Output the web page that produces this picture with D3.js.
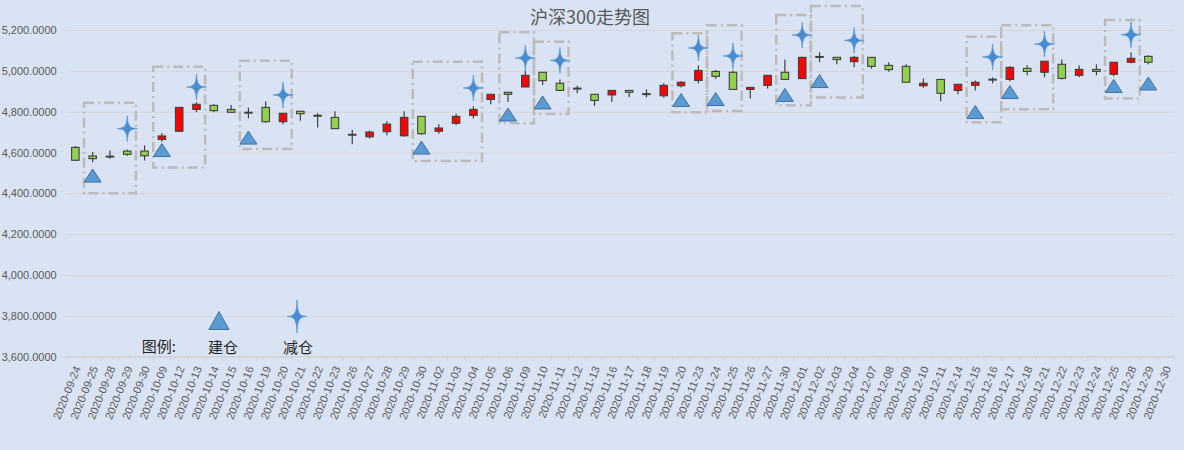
<!DOCTYPE html>
<html>
<head>
<meta charset="utf-8">
<script src="https://cdn.jsdelivr.net/npm/d3@7"></script>
<style>
  html, body { margin: 0; padding: 0; background: #dae3f3; }
  svg { display: block; }
</style>
</head>
<body>
<div id="chart"></div>
<script>
// 沪深300 K线 + 建仓/减仓标记

const DATES = [
  "2020-09-24","2020-09-25","2020-09-28","2020-09-29","2020-09-30","2020-10-09","2020-10-12","2020-10-13",
  "2020-10-14","2020-10-15","2020-10-16","2020-10-19","2020-10-20","2020-10-21","2020-10-22","2020-10-23",
  "2020-10-26","2020-10-27","2020-10-28","2020-10-29","2020-10-30","2020-11-02","2020-11-03","2020-11-04",
  "2020-11-05","2020-11-06","2020-11-09","2020-11-10","2020-11-11","2020-11-12","2020-11-13","2020-11-16",
  "2020-11-17","2020-11-18","2020-11-19","2020-11-20","2020-11-23","2020-11-24","2020-11-25","2020-11-26",
  "2020-11-27","2020-11-30","2020-12-01","2020-12-02","2020-12-03","2020-12-04","2020-12-07","2020-12-08",
  "2020-12-09","2020-12-10","2020-12-11","2020-12-14","2020-12-15","2020-12-16","2020-12-17","2020-12-18",
  "2020-12-21","2020-12-22","2020-12-23","2020-12-24","2020-12-25","2020-12-28","2020-12-29","2020-12-30"
];
const OPEN = [
  4625,4583,4580,4607,4607,4664,4704,4811,4831,4811,4795,4821,4751,4802,4780,4772,
  4687,4677,4702,4682,4777,4704,4743,4782,4860,4895,4921,4993,4939,4913,4885,4882,
  4904,4886,4878,4927,4953,4997,4993,4909,4929,4993,4962,5068,5066,5045,5066,5027,
  5022,4927,4958,4904,4929,4957,4958,5012,4993,5032,4978,5007,4983,5042,5071,null
];
const HIGH = [
  4632,4602,4610,4615,4635,4695,4822,4847,4836,4833,4820,4851,4792,4802,4792,4802,
  4712,4708,4753,4802,4777,4738,4790,4826,4885,4895,4999,4993,4958,4927,4885,4904,
  4904,4909,4939,4950,5027,5004,5002,4919,4978,5056,5069,5091,5066,5073,5066,5042,
  5032,4963,4958,4934,4953,4968,5022,5027,5047,5056,5027,5032,5042,5091,5076,null
];
const LOW = [
  4561,4552,4570,4584,4561,4653,4703,4797,4797,4797,4767,4746,4738,4756,4722,4717,
  4640,4668,4684,4677,4687,4692,4735,4767,4836,4847,4921,4931,4901,4890,4828,4847,
  4872,4870,4868,4919,4939,4960,4909,4865,4914,4958,4962,5042,5032,5017,5011,4996,
  4944,4917,4851,4885,4904,4939,4949,4978,4968,4958,4968,4978,4973,5037,5032,null
];
const CLOSE = [
  4562,4570,4580,4591,4584,4681,4821,4836,4805,4797,4795,4751,4792,4790,4780,4717,
  4687,4700,4739,4772,4692,4720,4777,4811,4885,4885,4978,4952,4904,4913,4855,4904,
  4895,4886,4929,4944,5002,4973,4909,4919,4978,4958,5066,5068,5055,5066,5022,5006,
  4944,4939,4890,4934,4944,4957,5017,4997,5047,4963,5007,4997,5042,5061,5042,null
];

// 建仓 (triangles)
const BUY_DATES  = ["2020-09-25","2020-10-09","2020-10-16","2020-10-30","2020-11-06","2020-11-10","2020-11-20",
                    "2020-11-24","2020-11-30","2020-12-02","2020-12-15","2020-12-17","2020-12-25","2020-12-29"];
const BUY_VALUES = [4487,4612,4673,4624,4786,4845,4857,4862,4882,4950,4798,4896,4926,4938];

// 减仓 (stars)
const SELL_DATES  = ["2020-09-29","2020-10-13","2020-10-20","2020-11-04","2020-11-09","2020-11-11","2020-11-23",
                     "2020-11-25","2020-12-01","2020-12-04","2020-12-16","2020-12-21","2020-12-28"];
const SELL_VALUES = [4717,4921,4882,4916,5063,5051,5112,5073,5175,5149,5068,5131,5177];

// dashed holding boxes
const BOX_START = ["2020-09-25","2020-10-09","2020-10-16","2020-10-30","2020-11-06","2020-11-10","2020-11-20",
                   "2020-11-24","2020-11-30","2020-12-02","2020-12-15","2020-12-17","2020-12-25"];
const BOX_END   = ["2020-09-29","2020-10-13","2020-10-20","2020-11-04","2020-11-09","2020-11-11","2020-11-23",
                   "2020-11-25","2020-12-01","2020-12-04","2020-12-16","2020-12-21","2020-12-28"];
const BOX_LOW   = [4400,4527,4617,4558,4743,4789,4797,4803,4831,4870,4748,4812,4865];
const BOX_HIGH  = [4844,5020,5050,5045,5189,5143,5184,5223,5273,5317,5167,5223,5249];

const Y_TICKS = [3600,3800,4000,4200,4400,4600,4800,5000,5200];

const TITLE = "沪深300走势图";
const LEGEND_LABELS = ["图例:", "建仓", "减仓"];

/* ── Layout ── */
const totalW = 1184, totalH = 450;
const plotL = 66.7, plotR = 1174.3, plotT = 30, plotB = 356.7;
const FONT = "'Liberation Sans', Arial, sans-serif";
const CJK = "'Noto Sans CJK SC', sans-serif";

const svg = d3.select("#chart").append("svg")
  .attr("width", totalW).attr("height", totalH);

svg.append("rect").attr("width", totalW).attr("height", totalH).attr("fill", "#dae3f3");

const defs = svg.append("defs");
defs.append("filter").attr("id", "soft")
  .attr("x", "-30%").attr("y", "-30%").attr("width", "160%").attr("height", "160%")
  .append("feGaussianBlur").attr("stdDeviation", 0.45);

/* ── Scales ── */
const x = d3.scaleBand().domain(DATES).range([plotL, plotR]).padding(0);
const y = d3.scaleLinear().domain([3600, 5200]).range([plotB, plotT]);
const bw = x.bandwidth();

/* ── Grid ── */
svg.append("g").attr("transform", `translate(${plotL},0)`)
  .call(d3.axisLeft(y).tickValues(Y_TICKS).tickSize(-(plotR - plotL)).tickFormat(""))
  .call(ax => { ax.select(".domain").remove(); ax.selectAll("line").attr("stroke", "#d6d5d9").attr("stroke-width", 1); });

/* ── Y axis labels ── */
svg.append("g").attr("transform", `translate(${plotL},0)`)
  .call(d3.axisLeft(y).tickValues(Y_TICKS).tickSize(0).tickPadding(10).tickFormat(d3.format(",.4f")))
  .call(ax => ax.select(".domain").remove())
  .selectAll("text").attr("font-size", 11).attr("font-family", FONT).attr("fill", "#595959");

/* ── X axis ── */
svg.append("line").attr("x1", plotL).attr("x2", plotR).attr("y1", plotB).attr("y2", plotB)
  .attr("stroke", "#cfcfd2");
svg.append("g").selectAll("line")
  .data(DATES.concat([null]))
  .join("line")
  .attr("x1", d => d ? x(d) : plotR).attr("x2", d => d ? x(d) : plotR)
  .attr("y1", plotB).attr("y2", plotB + 4)
  .attr("stroke", "#cfcfd2");

svg.append("g").attr("transform", `translate(0,${plotB})`)
  .call(d3.axisBottom(x).tickSize(0).tickFormat(d => d))
  .call(ax => ax.select(".domain").remove())
  .selectAll("text")
  .attr("font-size", 11).attr("font-family", FONT).attr("fill", "#595959")
  .attr("text-anchor", "end")
  .attr("x", 0).attr("y", 0).attr("dy", "0.35em")
  .attr("transform", "translate(2,10) rotate(-68)");

/* ── Title ── */
svg.append("text").attr("x", 590).attr("y", 24)
  .attr("text-anchor", "middle").attr("font-family", CJK).attr("font-size", 18).attr("fill", "#595959")
  .text(TITLE);

/* ── Dashed boxes ── */
svg.append("g").selectAll("rect")
  .data(BOX_START.map((s, i) => ({ s, e: BOX_END[i], lo: BOX_LOW[i], hi: BOX_HIGH[i] })))
  .join("rect")
  .attr("x", d => x(d.s))
  .attr("y", d => y(d.hi))
  .attr("width", d => x(d.e) + bw - x(d.s))
  .attr("height", d => y(d.lo) - y(d.hi))
  .attr("fill", "none")
  .attr("stroke", "#bdbaba")
  .attr("stroke-width", 2.5)
  .attr("stroke-dasharray", "10 4 2 4");

/* ── Candles ── */
const candles = DATES.map((d, i) => ({ d, o: OPEN[i], h: HIGH[i], l: LOW[i], c: CLOSE[i] }))
  .filter(k => k.o != null);
const bodyW = 7.5;

const cg = svg.append("g").selectAll("g").data(candles).join("g")
  .attr("transform", k => `translate(${x(k.d) + bw / 2},0)`);

cg.append("line")
  .attr("y1", k => y(k.h)).attr("y2", k => y(k.l))
  .attr("stroke", "#404040").attr("stroke-width", 1.2);

cg.filter(k => k.o !== k.c).append("rect")
  .attr("x", -bodyW / 2).attr("width", bodyW)
  .attr("y", k => y(Math.max(k.o, k.c)))
  .attr("height", k => Math.max(1, Math.abs(y(k.o) - y(k.c))))
  .attr("fill", k => k.c > k.o ? "#ff0000" : "#92d050")
  .attr("stroke", "#404040").attr("stroke-width", 1.1);

cg.filter(k => k.o === k.c).append("line")
  .attr("x1", -bodyW / 2 - 0.5).attr("x2", bodyW / 2 + 0.5)
  .attr("y1", k => y(k.o)).attr("y2", k => y(k.o))
  .attr("stroke", "#404040").attr("stroke-width", 2);

/* ── Marker shapes ── */
const triPath = (w, h) => `M0,${-h / 2}L${w / 2},${h / 2}L${-w / 2},${h / 2}Z`;
const starPath = (rx, ry) => {
  const a = 0.6, b = 2.4;
  return `M0,${-ry}C${a},${-b} ${b},${-a} ${rx},0` +
         `C${b},${a} ${a},${b} 0,${ry}` +
         `C${-a},${b} ${-b},${a} ${-rx},0` +
         `C${-b},${-a} ${-a},${-b} 0,${-ry}Z`;
};

svg.append("g").selectAll("path")
  .data(BUY_DATES.map((d, i) => ({ d, v: BUY_VALUES[i] })))
  .join("path")
  .attr("d", triPath(17, 13))
  .attr("transform", m => `translate(${x(m.d) + bw / 2},${y(m.v)})`)
  .attr("fill", "#5b9bd5").attr("stroke", "#41719c").attr("stroke-width", 1);

svg.append("g").attr("filter", "url(#soft)").selectAll("path")
  .data(SELL_DATES.map((d, i) => ({ d, v: SELL_VALUES[i] })))
  .join("path")
  .attr("d", starPath(10, 13))
  .attr("transform", m => `translate(${x(m.d) + bw / 2},${y(m.v)})`)
  .attr("fill", "#4a8bcf").attr("stroke", "#5b9bd5").attr("stroke-width", 0.8);

/* ── Legend ── */
const lg = svg.append("g");
lg.append("text").attr("x", 141.7).attr("y", 352)
  .attr("font-family", CJK).attr("font-size", 15).attr("fill", "#262626")
  .text(LEGEND_LABELS[0]);
lg.append("path").attr("d", triPath(20, 18)).attr("transform", "translate(219,320.5)")
  .attr("fill", "#5b9bd5").attr("stroke", "#41719c").attr("stroke-width", 1);
lg.append("text").attr("x", 208).attr("y", 353)
  .attr("font-family", CJK).attr("font-size", 15).attr("fill", "#262626")
  .text(LEGEND_LABELS[1]);
lg.append("path").attr("d", starPath(10, 16.5)).attr("transform", "translate(297,316.5)")
  .attr("filter", "url(#soft)")
  .attr("fill", "#4a8bcf").attr("stroke", "#5b9bd5").attr("stroke-width", 0.8);
lg.append("text").attr("x", 283).attr("y", 353)
  .attr("font-family", CJK).attr("font-size", 15).attr("fill", "#262626")
  .text(LEGEND_LABELS[2]);
</script>
</body>
</html>
